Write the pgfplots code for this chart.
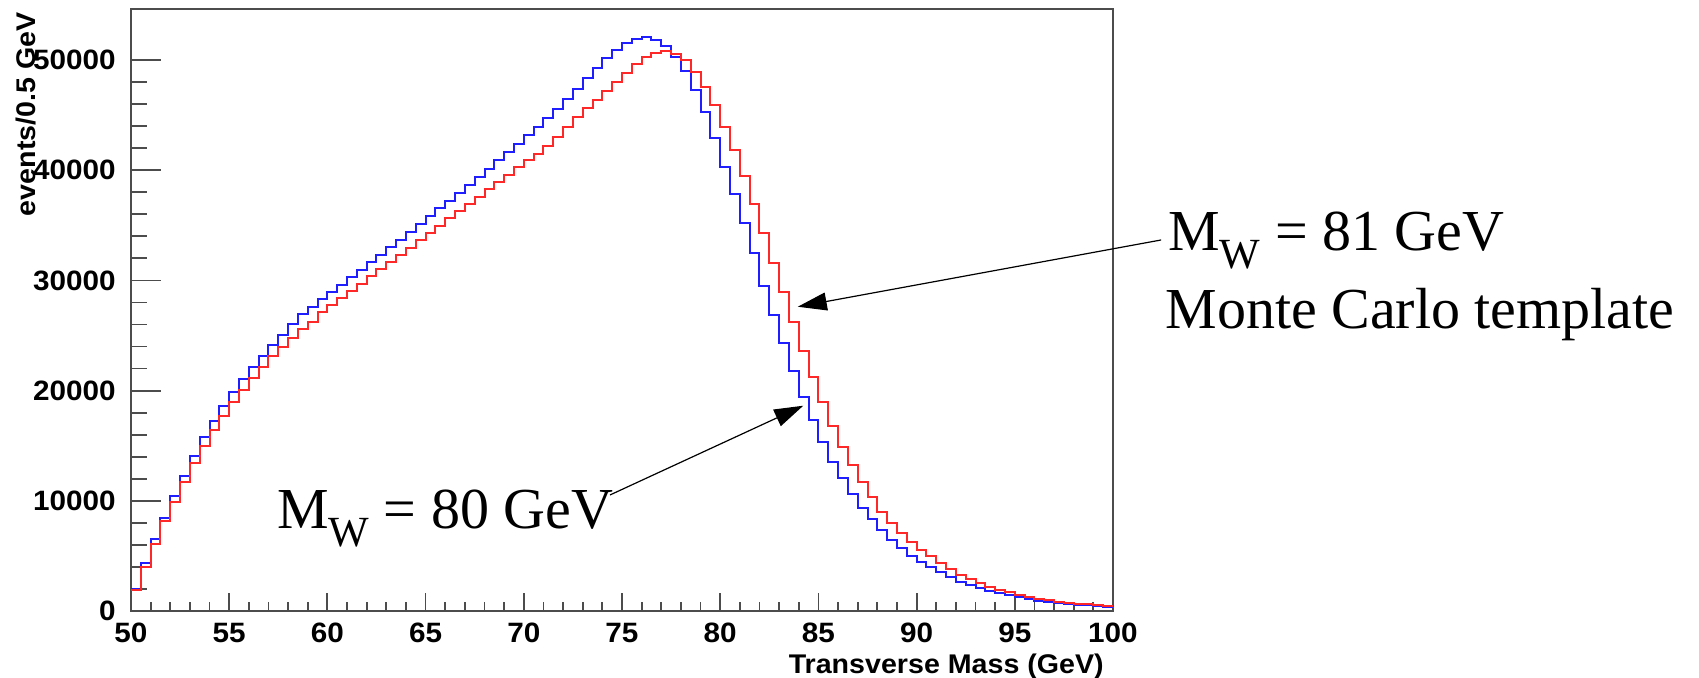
\documentclass[border=0pt]{standalone}
\usepackage{fontspec}
\usepackage{pgfplots}
\pgfplotsset{compat=1.18}
\usepackage{pgfplotstable}
\usetikzlibrary{arrows.meta}
\setmainfont{Liberation Serif}
\newfontfamily\rootfont[FakeStretch=1.06]{Liberation Sans}
\newcommand\annfont{\fontsize{29}{34}\selectfont}
\newcommand\Wsub{\raisebox{-9.3pt}{\fontsize{21.5}{22}\selectfont W}}

\pgfplotstableread{
x blue red
50.0 2000 1950
50.5 4330 4030
51.0 6500 6090
51.5 8420 8180
52.0 10400 9910
52.5 12270 11700
53.0 14090 13450
53.5 15820 14940
54.0 17270 16450
54.5 18640 17730
55.0 19910 18970
55.5 21060 20030
56.0 22180 21120
56.5 23150 22150
57.0 24150 23120
57.5 25090 23970
58.0 26030 24750
58.5 26910 25610
59.0 27600 26270
59.5 28270 27120
60.0 28950 27780
60.5 29600 28420
61.0 30300 29080
61.5 30950 29720
62.0 31650 30380
62.5 32350 31020
63.0 33000 31680
63.5 33700 32330
64.0 34400 32980
64.5 35100 33640
65.0 35850 34300
65.5 36550 34950
66.0 37250 35620
66.5 37950 36270
67.0 38700 36930
67.5 39400 37600
68.0 40150 38260
68.5 40900 38930
69.0 41650 39600
69.5 42400 40250
70.0 43180 40900
70.5 43950 41500
71.0 44770 42200
71.5 45600 42980
72.0 46450 43890
72.5 47400 44800
73.0 48350 45610
73.5 49300 46370
74.0 50200 47210
74.5 50950 48030
75.0 51550 48790
75.5 51950 49600
76.0 52050 50250
76.5 51800 50660
77.0 51250 50820
77.5 50300 50550
78.0 49030 50000
78.5 47280 48940
79.0 45310 47580
79.5 42890 45920
80.0 40320 43950
80.5 37850 41850
81.0 35180 39500
81.5 32460 36930
82.0 29520 34270
82.5 26860 31610
83.0 24320 28920
83.5 21810 26250
84.0 19450 23620
84.5 17330 21260
85.0 15360 18990
85.5 13550 16790
86.0 12040 14910
86.5 10620 13250
87.0 9320 11730
87.5 8350 10370
88.0 7350 9010
88.5 6440 8010
89.0 5690 7110
89.5 4990 6290
90.0 4450 5570
90.5 3950 4960
91.0 3500 4380
91.5 3060 3780
92.0 2660 3270
92.5 2360 2870
93.0 2060 2510
93.5 1840 2150
94.0 1600 1900
94.5 1450 1690
95.0 1240 1420
95.5 1090 1240
96.0 940 1090
96.5 840 970
97.0 730 850
97.5 640 750
98.0 570 660
98.5 520 600
99.0 450 540
99.5 390 450
100.0 390 450
}\hist

\begin{document}
\begin{tikzpicture}
\path[use as bounding box] (-65.5pt,-33pt) rectangle (784pt,305.5pt);
\begin{axis}[
  at={(0pt,0pt)}, anchor=south west,
  scale only axis, width=491pt, height=301pt,
  xmin=50, xmax=100, ymin=0, ymax=54630,
  clip=false,
  axis line style={line width=1.1pt, black!70},
  tick align=inside, tick pos=left,
  xtick={50,55,...,100},
  xticklabels={50,55,60,65,70,75,80,85,90,95,100},
  ytick={0,10000,20000,30000,40000,50000},
  yticklabels={0,10000,20000,30000,40000,50000},
  minor x tick num=4, minor y tick num=4,
  x tick style={/pgfplots/major tick length=9pt, /pgfplots/minor tick length=4.5pt},
  y tick style={/pgfplots/major tick length=15pt, /pgfplots/minor tick length=8pt},
  tick style={line width=0.9pt, black!70},
  ticklabel style={font=\rootfont\bfseries\fontsize{14}{16}\selectfont, inner sep=0pt},
  xticklabel style={yshift=-6pt},
  yticklabel style={xshift=-7.5pt},
  xlabel={Transverse Mass (GeV)},
  ylabel={events/0.5 GeV},
  label style={font=\rootfont\bfseries\fontsize{13.5}{16}\selectfont, inner sep=0pt},
  xlabel style={at={(axis description cs:0.991,-0.103)}, anchor=base east},
  ylabel style={at={(axis description cs:-0.107,0.995)}, anchor=east},
]
\addplot[const plot, color={rgb,255:red,30;green,30;blue,255}, line width=1pt] table[x=x, y=blue] {\hist};
\addplot[const plot, color={rgb,255:red,255;green,40;blue,40}, line width=1pt] table[x=x, y=red] {\hist};

\draw[line width=0.6pt, -{Triangle[length=14.5pt,width=9pt]}] (axis cs:102.45,33670) -- (axis cs:83.95,27610);
\draw[line width=0.6pt, -{Triangle[length=14.5pt,width=9pt]}] (axis cs:74.39,10530) -- (axis cs:84.23,18630);

\node[anchor=base west, inner sep=0pt, font=\annfont] at (axis cs:102.8,32760) {M\Wsub{} = 81 GeV};
\node[anchor=base west, inner sep=0pt, font=\annfont] at (axis cs:102.65,25600) {Monte Carlo template};
\node[anchor=base west, inner sep=0pt, font=\annfont] at (axis cs:57.43,7530) {M\Wsub{} = 80 GeV};
\end{axis}
\end{tikzpicture}
\end{document}
